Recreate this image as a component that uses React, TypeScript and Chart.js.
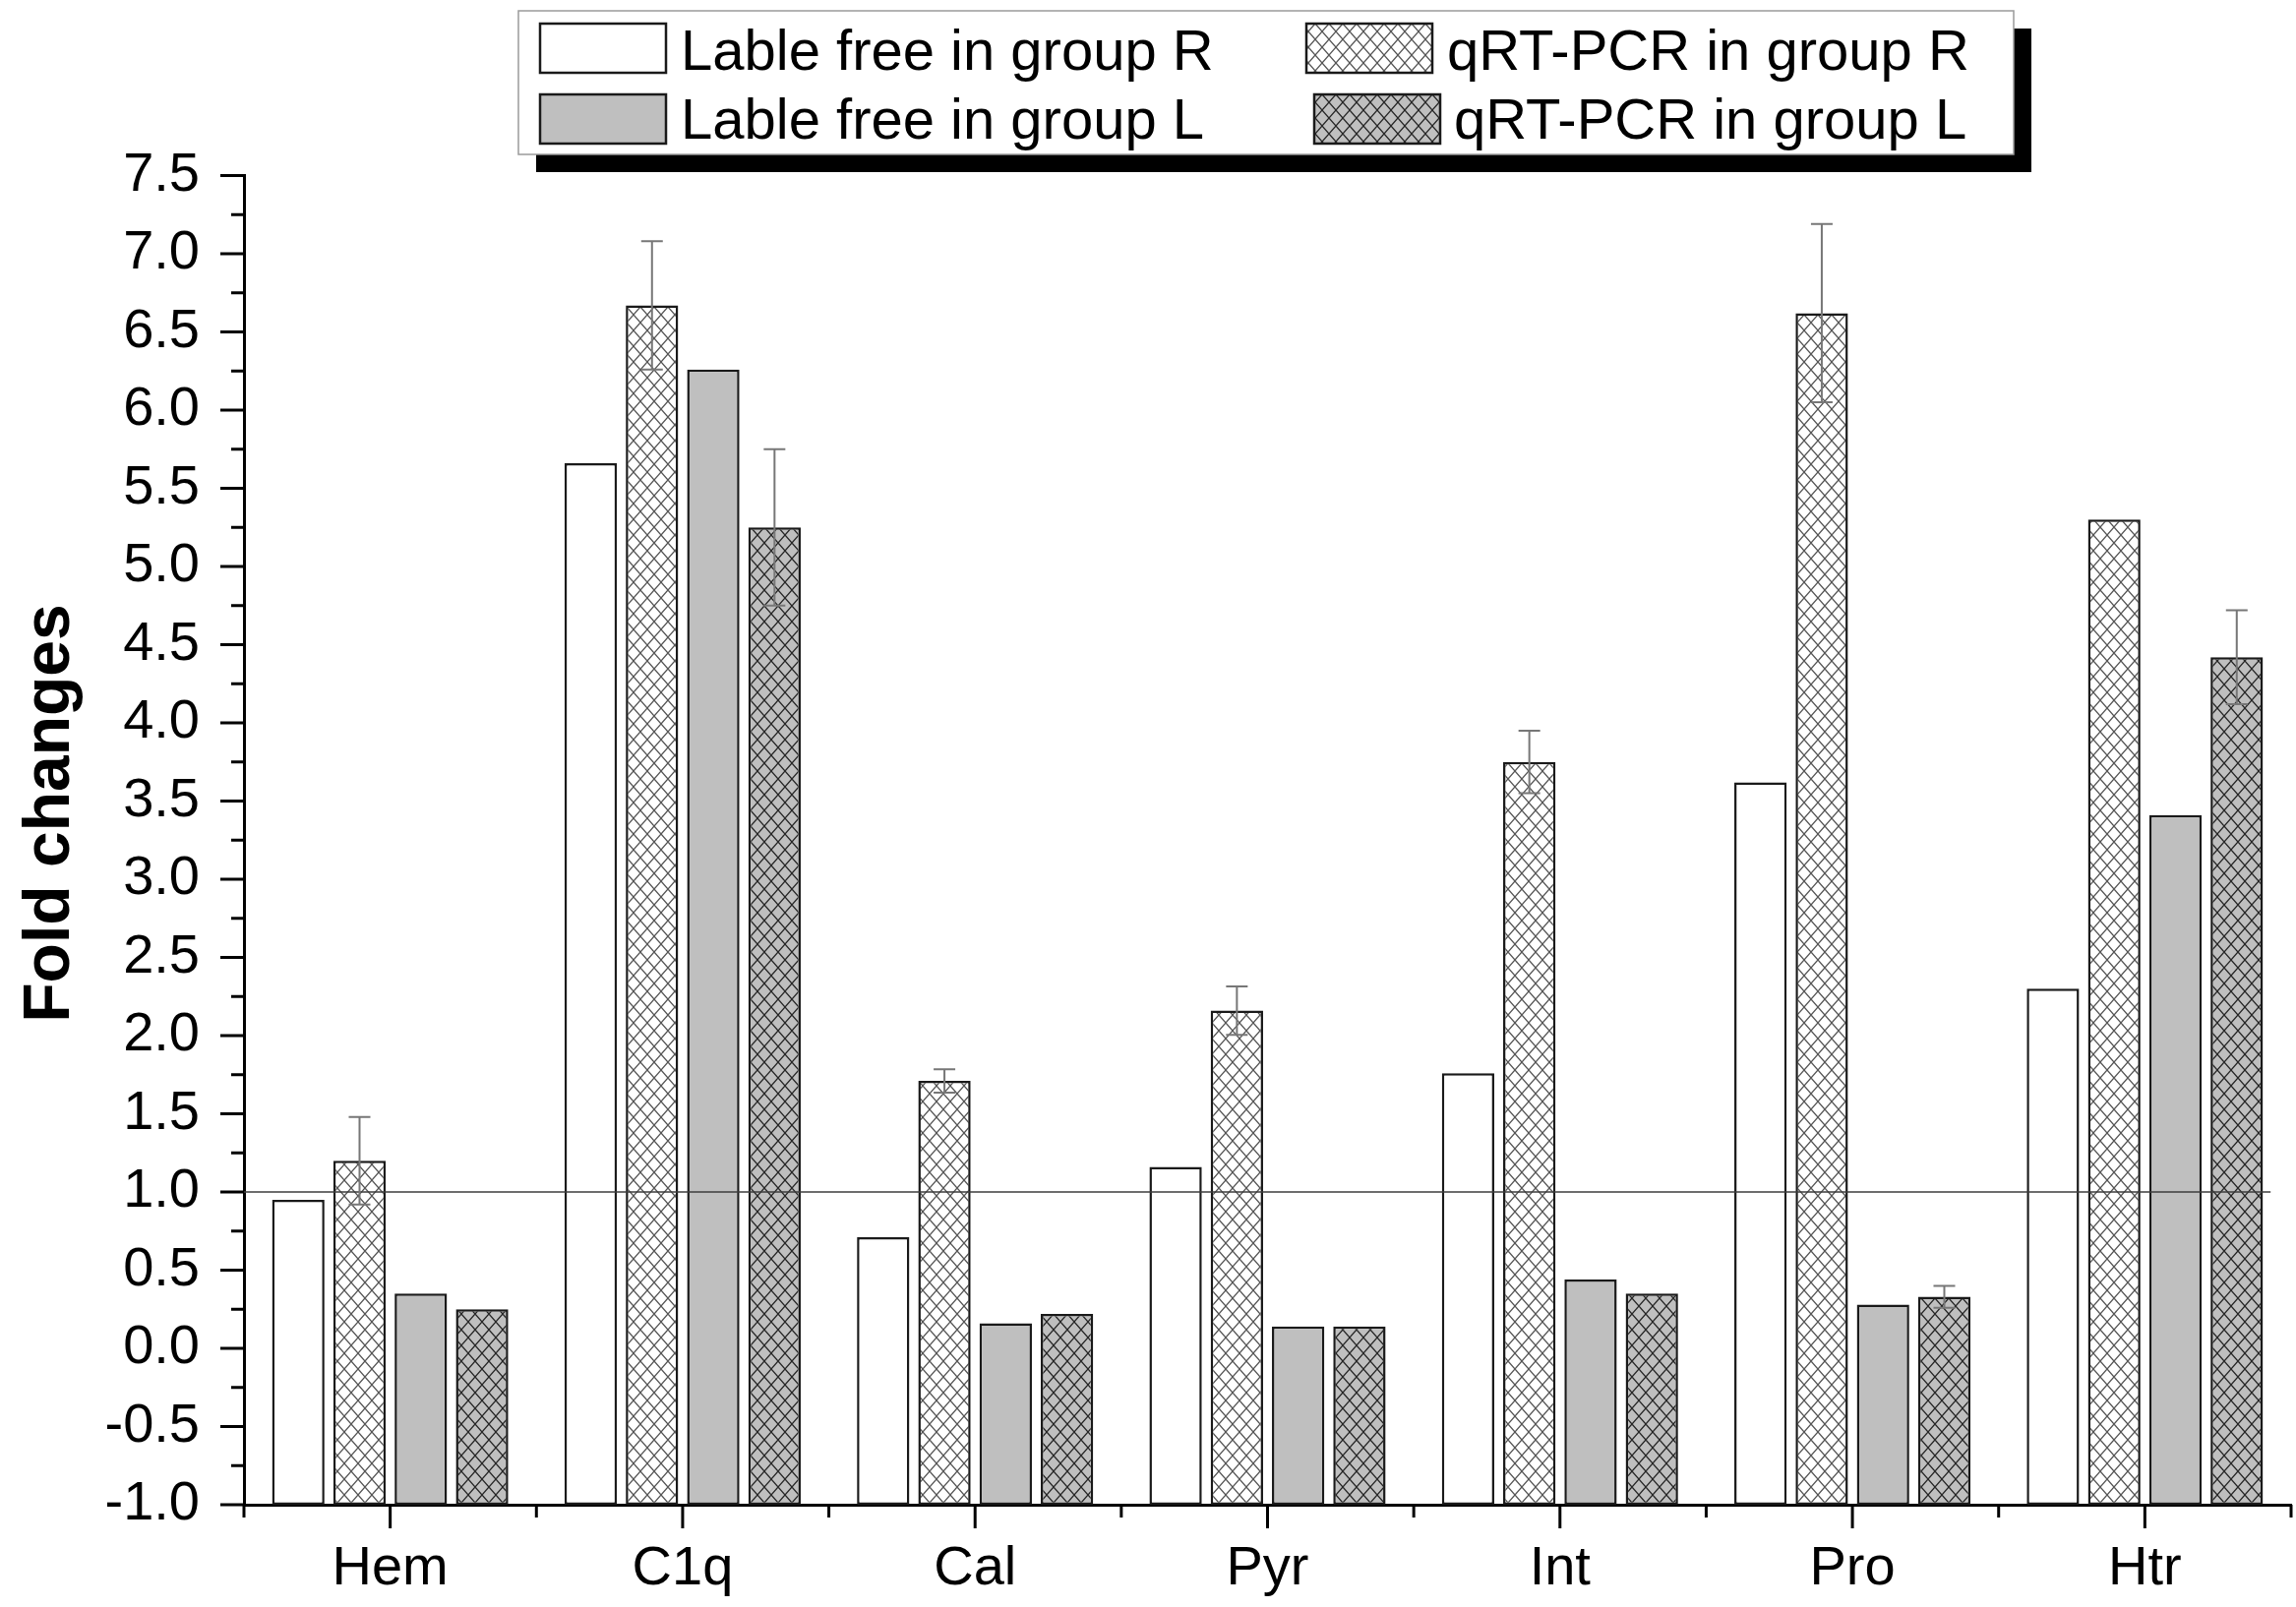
import React, { useEffect, useRef } from 'react';
import { Chart, registerables } from 'chart.js';

Chart.register(...registerables);

// ---------- data ----------
const categories = ['Hem', 'C1q', 'Cal', 'Pyr', 'Int', 'Pro', 'Htr'];
const seriesLabels = [
  'Lable free in group R',
  'qRT-PCR in group R',
  'Lable free in group L',
  'qRT-PCR in group L',
];
const lableFreeR = [0.95, 5.66, 0.71, 1.16, 1.76, 3.62, 2.30];
const qpcrR = [1.20, 6.67, 1.71, 2.16, 3.75, 6.62, 5.30];
const lableFreeL = [0.35, 6.26, 0.16, 0.14, 0.44, 0.28, 3.41];
const qpcrL = [0.25, 5.25, 0.22, 0.14, 0.35, 0.33, 4.42];
const qpcrRErr = [0.28, 0.41, 0.075, 0.155, 0.20, 0.57, 0];
const qpcrLErr = [0, 0.50, 0, 0, 0, 0.07, 0.30];
const yMin = -1;
const yMax = 7.5;
const yStep = 0.5;
const referenceValue = 1.0;
const yAxisTitle = 'Fold changes';

const FONT = '"Liberation Sans", Arial, Helvetica, sans-serif';

function makeHatch(bg: string, line: string, lw: number): CanvasPattern | string {
  const c = document.createElement('canvas');
  const w = 14;
  const h = 16;
  c.width = w;
  c.height = h;
  const g = c.getContext('2d');
  if (!g) return bg;
  g.fillStyle = bg;
  g.fillRect(0, 0, w, h);
  g.strokeStyle = line;
  g.lineWidth = lw;
  g.beginPath();
  g.moveTo(-w, -h); g.lineTo(2 * w, 2 * h);
  g.moveTo(2 * w, -h); g.lineTo(-w, 2 * h);
  g.stroke();
  const p = g.createPattern(c, 'repeat');
  return p || bg;
}

const whiteBg = { id: 'whiteBg', beforeDraw(chart: any) {
  const { ctx, width, height } = chart;
  ctx.save();
  ctx.fillStyle = '#ffffff';
  ctx.fillRect(0, 0, width, height);
  ctx.restore();
} };

const axisMarks = { id: 'axisMarks', afterDraw(chart: any) {
  const { ctx, chartArea, scales } = chart;
  const x = scales.x;
  const y = scales.y;
  ctx.save();
  ctx.strokeStyle = '#000';
  ctx.lineWidth = 3;
  ctx.lineCap = 'butt';
  const nMinor = Math.round((yMax - yMin) / (yStep / 2));
  for (let i = 0; i <= nMinor; i++) {
    const v = yMin + i * (yStep / 2);
    const py = y.getPixelForValue(v);
    const len = i % 2 === 0 ? 24 : 13;
    ctx.beginPath();
    ctx.moveTo(chartArea.left - len, py);
    ctx.lineTo(chartArea.left, py);
    ctx.stroke();
  }
  for (let i = 0; i < categories.length; i++) {
    const px = x.getPixelForValue(i);
    ctx.beginPath();
    ctx.moveTo(px, chartArea.bottom);
    ctx.lineTo(px, chartArea.bottom + 24);
    ctx.stroke();
  }
  for (let i = 0; i <= categories.length; i++) {
    const px = x.getPixelForValue(i - 0.5);
    ctx.beginPath();
    ctx.moveTo(px, chartArea.bottom);
    ctx.lineTo(px, chartArea.bottom + 13);
    ctx.stroke();
  }
  // y-axis title
  ctx.fillStyle = '#000';
  ctx.font = `bold 66px ${FONT}`;
  ctx.textAlign = 'center';
  ctx.textBaseline = 'alphabetic';
  ctx.translate(70, 827);
  ctx.rotate(-Math.PI / 2);
  ctx.fillText(yAxisTitle, 0, 0);
  ctx.restore();
} };

const refAndErrors = { id: 'refAndErrors', afterDatasetsDraw(chart: any) {
  const { ctx, chartArea, scales } = chart;
  const x = scales.x;
  const y = scales.y;
  ctx.save();
  const ry = y.getPixelForValue(referenceValue);
  ctx.strokeStyle = '#3c3c3c';
  ctx.lineWidth = 1.5;
  ctx.beginPath();
  ctx.moveTo(chartArea.left, ry);
  ctx.lineTo(x.getPixelForValue(categories.length - 1 + 0.43), ry);
  ctx.stroke();
  ctx.strokeStyle = '#777777';
  ctx.lineWidth = 2;
  chart.data.datasets.forEach((ds: any, di: number) => {
    if (!ds.errors) return;
    const meta = chart.getDatasetMeta(di);
    meta.data.forEach((bar: any, i: number) => {
      const e = ds.errors[i];
      if (!e) return;
      const v = ds.data[i];
      const top = y.getPixelForValue(v + e);
      const bot = y.getPixelForValue(v - e);
      const cx = bar.x;
      ctx.beginPath();
      ctx.moveTo(cx, top); ctx.lineTo(cx, bot);
      ctx.moveTo(cx - 11, top); ctx.lineTo(cx + 11, top);
      ctx.moveTo(cx - 11, bot); ctx.lineTo(cx + 11, bot);
      ctx.stroke();
    });
  });
  ctx.restore();
} };

const boxLegend = { id: 'boxLegend', afterDraw(chart: any) {
  const { ctx } = chart;
  const bx = 527, by = 11, bw = 1520, bh = 146;
  ctx.save();
  ctx.fillStyle = '#000';
  ctx.fillRect(bx + 18, by + 18, bw, bh);
  ctx.fillStyle = '#fff';
  ctx.fillRect(bx, by, bw, bh);
  ctx.strokeStyle = '#9a9a9a';
  ctx.lineWidth = 1.5;
  ctx.strokeRect(bx, by, bw, bh);
  const slots = [
    { sx: 549, sy: 24, tx: 692, ty: 71 },
    { sx: 1328, sy: 24, tx: 1471, ty: 71 },
    { sx: 549, sy: 96, tx: 692, ty: 141 },
    { sx: 1336, sy: 96, tx: 1478, ty: 141 },
  ];
  chart.data.datasets.forEach((ds: any, i: number) => {
    const s = slots[i];
    ctx.fillStyle = ds.backgroundColor;
    ctx.fillRect(s.sx, s.sy, 128, 50);
    ctx.strokeStyle = '#1a1a1a';
    ctx.lineWidth = 2.5;
    ctx.strokeRect(s.sx, s.sy, 128, 50);
    ctx.fillStyle = '#000';
    ctx.font = `58px ${FONT}`;
    ctx.textAlign = 'left';
    ctx.textBaseline = 'alphabetic';
    ctx.fillText(ds.label, s.tx, s.ty);
  });
  ctx.restore();
} };

export default function App() {
  const ref = useRef<HTMLCanvasElement | null>(null);
  useEffect(() => {
    const canvas = ref.current;
    if (!canvas) return;
    const ctx = canvas.getContext('2d');
    if (!ctx) return;
    const hatchLight = makeHatch('#ffffff', '#555555', 1.3);
    const hatchDark = makeHatch('#bfbfbf', '#262626', 1.3);
    const common = {
      borderColor: '#1a1a1a',
      borderWidth: 2.5,
      borderSkipped: false,
      base: yMin,
      categoryPercentage: 0.838,
      barPercentage: 0.855,
    };
    const chart = new Chart(ctx, {
      type: 'bar',
      data: {
        labels: categories,
        datasets: [
          { ...common, label: seriesLabels[0], data: lableFreeR, backgroundColor: '#ffffff' },
          { ...common, label: seriesLabels[1], data: qpcrR, backgroundColor: hatchLight, errors: qpcrRErr },
          { ...common, label: seriesLabels[2], data: lableFreeL, backgroundColor: '#bfbfbf' },
          { ...common, label: seriesLabels[3], data: qpcrL, backgroundColor: hatchDark, errors: qpcrLErr },
        ] as any,
      },
      options: {
        responsive: false,
        animation: false,
        devicePixelRatio: 1,
        layout: { padding: { top: 178.5, left: 0, right: 5, bottom: 0 } },
        plugins: { legend: { display: false }, tooltip: { enabled: false } },
        scales: {
          x: {
            type: 'category',
            offset: true,
            grid: { display: false, drawTicks: false },
            border: { display: true, color: '#000', width: 3 },
            ticks: {
              color: '#000',
              font: { family: FONT, size: 56 },
              padding: 32,
              maxRotation: 0,
              autoSkip: false,
            },
            afterFit: (s: any) => { s.height = 104; },
          },
          y: {
            type: 'linear',
            min: yMin,
            max: yMax,
            grid: { display: false, drawTicks: false },
            border: { display: true, color: '#000', width: 3 },
            ticks: {
              stepSize: yStep,
              color: '#000',
              font: { family: FONT, size: 56 },
              padding: 45,
              callback: (v: any) => Number(v).toFixed(1),
            },
            afterFit: (s: any) => { s.width = 248; },
          },
        },
      } as any,
      plugins: [whiteBg, refAndErrors, axisMarks, boxLegend],
    });
    return () => chart.destroy();
  }, []);
  return (
    <div style={{ position: 'absolute', left: 0, top: 0, width: 2334, height: 1634, background: '#fff' }}>
      <canvas ref={ref} width={2334} height={1634} style={{ width: 2334, height: 1634, display: 'block' }} />
    </div>
  );
}
